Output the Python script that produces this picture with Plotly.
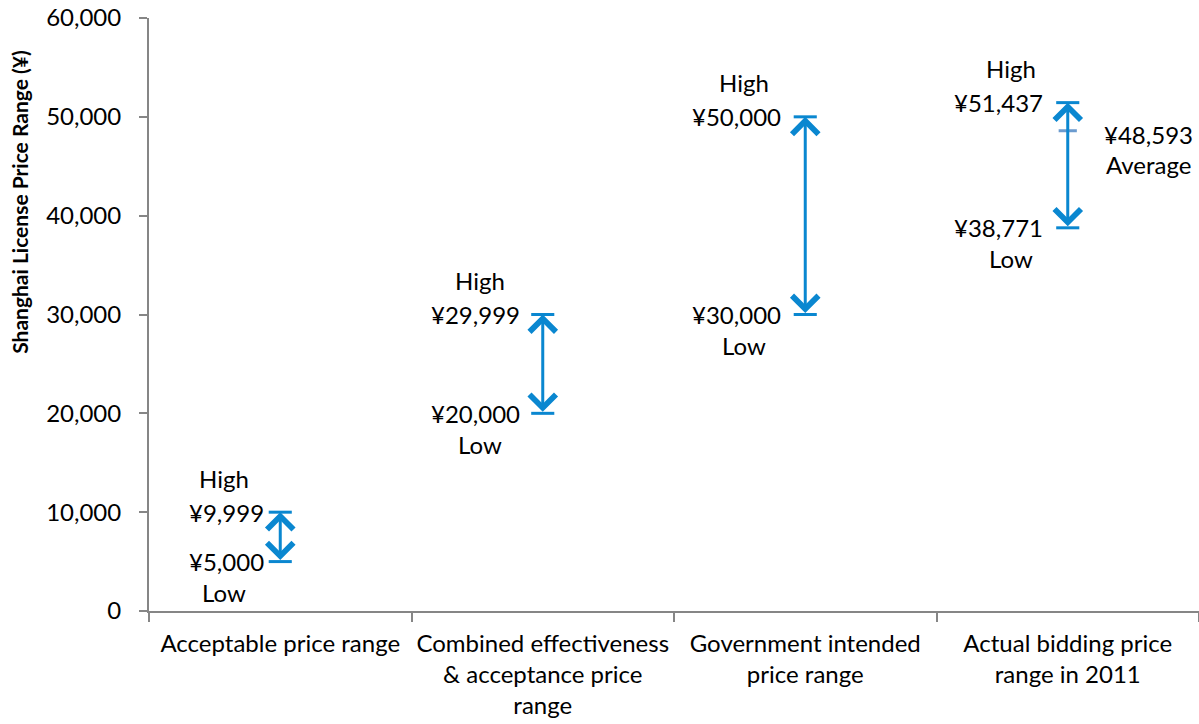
import plotly.graph_objects as go

# %% Daten
categories = ["Acceptable price range",
              "Combined effectiveness<br>& acceptance price<br>range",
              "Government intended<br>price range",
              "Actual bidding price<br>range in 2011"]
high = [9999, 29999, 50000, 51437]
low = [5000, 20000, 30000, 38771]
average_cat = categories[3]
average_val = 48593

# label offsets in px relative to the arrow (layout only)
val_dx = [-54, -67, -69, -69]
word_dx = [-56, -63, -61, -57]

blue = "#0a87d0"
font = "Lato"

fig = go.Figure()

# caps at high / low
fig.add_trace(go.Scatter(x=categories + categories, y=high + low, mode="markers",
                         marker=dict(symbol="line-ew", size=16.5, line=dict(color=blue, width=3)),
                         showlegend=False, hoverinfo="skip"))
# average tick
fig.add_trace(go.Scatter(x=[average_cat], y=[average_val], mode="markers",
                         marker=dict(symbol="line-ew", size=13, line=dict(color="rgba(70,130,195,0.8)", width=3)),
                         showlegend=False, hoverinfo="skip"))

for i, cat in enumerate(categories):
    # double arrow low <-> high
    fig.add_annotation(x=cat, y=high[i], ax=cat, ay=low[i], xref="x", yref="y",
                       axref="x", ayref="y", text="", showarrow=True,
                       arrowhead=4, startarrowhead=4, arrowside="end+start",
                       arrowsize=1.7, startarrowsize=1.7, arrowwidth=3, arrowcolor=blue,
                       standoff=0, startstandoff=0)
    fig.add_annotation(x=cat, y=high[i], text="¥{:,}".format(high[i]), showarrow=False,
                       xanchor="center", yanchor="middle", xshift=val_dx[i])
    fig.add_annotation(x=cat, y=high[i], text="High", showarrow=False,
                       xanchor="center", yanchor="middle", xshift=word_dx[i], yshift=34)
    fig.add_annotation(x=cat, y=low[i], text="¥{:,}".format(low[i]), showarrow=False,
                       xanchor="center", yanchor="middle", xshift=val_dx[i])
    fig.add_annotation(x=cat, y=low[i], text="Low", showarrow=False,
                       xanchor="center", yanchor="middle", xshift=word_dx[i], yshift=-31)

fig.add_annotation(x=average_cat, y=average_val, text="¥{:,}".format(average_val), showarrow=False,
                   xanchor="center", yanchor="middle", xshift=81, yshift=-4)
fig.add_annotation(x=average_cat, y=average_val, text="Average", showarrow=False,
                   xanchor="center", yanchor="middle", xshift=81, yshift=-34)

# y axis title
fig.add_annotation(x=0, y=0.69, xref="paper", yref="paper", xanchor="center", yanchor="middle",
                   xshift=-129, text="<b>Shanghai License Price Range (¥)</b>", textangle=-90,
                   showarrow=False, font=dict(size=21))

fig.update_layout(
    width=1199, height=724,
    margin=dict(l=149, r=0, t=18, b=113),
    plot_bgcolor="white", paper_bgcolor="white",
    font=dict(family=font, size=24, color="black"),
    showlegend=False,
)
fig.update_xaxes(type="category", categoryorder="array", categoryarray=categories,
                 range=[-0.5, 3.5], showline=True, linecolor="#868686", linewidth=2,
                 ticks="outside", tickson="boundaries", ticklen=9, tickcolor="#868686",
                 tickwidth=2, showgrid=False, zeroline=False, ticklabelstandoff=10,
                 tickangle=0, automargin=False)
fig.update_yaxes(range=[0, 60000], dtick=10000, tickformat=",d", showline=True,
                 linecolor="#868686", linewidth=2, ticks="outside", ticklen=8,
                 tickcolor="#868686", tickwidth=2, showgrid=False, zeroline=False,
                 ticklabelstandoff=13, automargin=False)

# browser default body margin would shift the figure by 8px
fig.write_html("out.html", config={"displayModeBar": False},
               post_script="document.body.style.margin='0';")
